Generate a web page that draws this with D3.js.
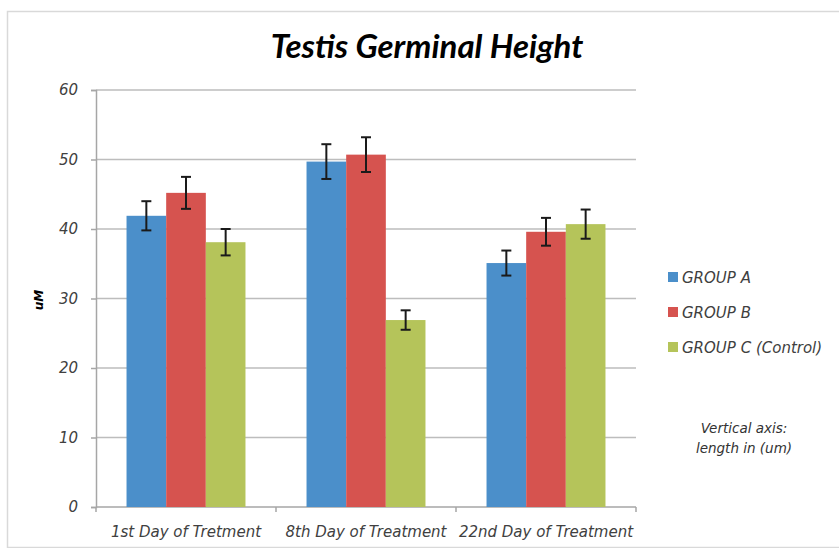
<!DOCTYPE html>
<html>
<head>
<meta charset="utf-8">
<script src="https://cdn.jsdelivr.net/npm/d3@7"></script>
<style>
  body { margin: 0; background: #fff; }
  svg { display: block; }
</style>
</head>
<body>
<div id="vis"></div>
<script>
// chart data
var categories = ["1st Day of Tretment", "8th Day of Treatment", "22nd Day of Treatment"];
var groups = ["GROUP A", "GROUP B", "GROUP C (Control)"];
var groupA = [41.9, 49.7, 35.1];
var groupB = [45.2, 50.7, 39.6];
var groupC = [38.1, 26.9, 40.7];
var errA = [2.1, 2.5, 1.8];
var errB = [2.3, 2.5, 2.0];
var errC = [1.9, 1.4, 2.1];
var yTicks = [0, 10, 20, 30, 40, 50, 60];
var colors = ["#4b8fca", "#d6534f", "#b5c45a"];

var width = 839, height = 548;
var margin = {left: 96, right: 203, top: 90, bottom: 41};

var svg = d3.select("#vis").append("svg")
    .attr("width", width)
    .attr("height", height);

// outer chart frame
svg.append("rect")
    .attr("x", 7.5).attr("y", 11.5)
    .attr("width", width + 10).attr("height", height - 12)
    .attr("fill", "none")
    .attr("stroke", "#d9d9d9")
    .attr("stroke-width", 1.5);

var x0 = d3.scaleBand()
    .domain(categories)
    .range([margin.left, width - margin.right])
    .paddingInner(0)
    .paddingOuter(0);

var x1 = d3.scaleBand()
    .domain(d3.range(groups.length))
    .range([0, x0.bandwidth()])
    .paddingOuter(0.77)
    .paddingInner(0);

var y = d3.scaleLinear()
    .domain([0, 60])
    .range([height - margin.bottom, margin.top]);

// gridlines
svg.append("g")
  .selectAll("line")
  .data(yTicks.filter(function(d) { return d > 0; }))
  .enter().append("line")
    .attr("x1", margin.left).attr("x2", width - margin.right)
    .attr("y1", function(d) { return y(d); })
    .attr("y2", function(d) { return y(d); })
    .attr("stroke", "#bdbdbd")
    .attr("stroke-width", 1.5);

// y axis
var yAxis = svg.append("g")
    .attr("transform", "translate(" + margin.left + ",0)")
    .call(d3.axisLeft(y).tickValues(yTicks).tickSize(5).tickPadding(13));
yAxis.select(".domain").attr("stroke", "#a6a6a6").attr("stroke-width", 1.5);
yAxis.selectAll(".tick line").attr("stroke", "#a6a6a6").attr("stroke-width", 1.5);
yAxis.selectAll("text")
    .attr("fill", "#404040")
    .style("font-family", "DejaVu Sans")
    .style("font-style", "italic")
    .style("font-size", "15px");

// x axis
var xAxisLine = svg.append("g")
    .attr("transform", "translate(0," + y(0) + ")");
xAxisLine.append("line")
    .attr("x1", margin.left).attr("x2", width - margin.right)
    .attr("stroke", "#a6a6a6").attr("stroke-width", 1.5);
var bounds = categories.map(function(c) { return x0(c); }).concat([width - margin.right]);
xAxisLine.selectAll(".tk")
  .data(bounds)
  .enter().append("line")
    .attr("x1", function(d) { return d; }).attr("x2", function(d) { return d; })
    .attr("y1", 0).attr("y2", 5)
    .attr("stroke", "#a6a6a6").attr("stroke-width", 1.5);
xAxisLine.selectAll(".lbl")
  .data(categories)
  .enter().append("text")
    .attr("x", function(d) { return x0(d) + x0.bandwidth() / 2; })
    .attr("y", 30)
    .attr("text-anchor", "middle")
    .attr("fill", "#404040")
    .style("font-family", "DejaVu Sans")
    .style("font-style", "italic")
    .style("font-size", "15px")
    .text(function(d) { return d; });

// bars
var series = [groupA, groupB, groupC];
var errs = [errA, errB, errC];
var rows = [];
categories.forEach(function(c, i) {
  series.forEach(function(s, g) {
    rows.push({cat: c, g: g, v: s[i], e: errs[g][i]});
  });
});

svg.append("g")
  .selectAll("rect")
  .data(rows)
  .enter().append("rect")
    .attr("x", function(d) { return x0(d.cat) + x1(d.g); })
    .attr("width", x1.bandwidth())
    .attr("y", function(d) { return y(d.v); })
    .attr("height", function(d) { return y(0) - y(d.v); })
    .attr("fill", function(d) { return colors[d.g]; });

// error bars
var eb = svg.append("g").attr("stroke", "#1a1a1a").attr("stroke-width", 2);
rows.forEach(function(d) {
  var cx = x0(d.cat) + x1(d.g) + x1.bandwidth() / 2;
  eb.append("line").attr("x1", cx).attr("x2", cx)
    .attr("y1", y(d.v + d.e)).attr("y2", y(d.v - d.e));
  eb.append("line").attr("x1", cx - 5).attr("x2", cx + 5)
    .attr("y1", y(d.v + d.e)).attr("y2", y(d.v + d.e));
  eb.append("line").attr("x1", cx - 5).attr("x2", cx + 5)
    .attr("y1", y(d.v - d.e)).attr("y2", y(d.v - d.e));
});

// title
svg.append("text")
    .attr("x", 427).attr("y", 58)
    .attr("text-anchor", "middle")
    .attr("fill", "#000")
    .style("font-family", "Lato")
    .style("font-weight", "bold")
    .style("font-style", "italic")
    .style("font-size", "33px")
    .text("Testis Germinal Height");

// y axis title
svg.append("text")
    .attr("transform", "translate(43,300) rotate(-90)")
    .attr("text-anchor", "middle")
    .attr("fill", "#000")
    .style("font-family", "DejaVu Sans")
    .style("font-weight", "bold")
    .style("font-style", "italic")
    .style("font-size", "12px")
    .text("uM");

// legend
var legend = svg.append("g").attr("transform", "translate(668,272)");
var li = legend.selectAll("g")
  .data(groups)
  .enter().append("g")
    .attr("transform", function(d, i) { return "translate(0," + (i * 35) + ")"; });
li.append("rect")
    .attr("width", 10).attr("height", 10)
    .attr("fill", function(d, i) { return colors[i]; });
li.append("text")
    .attr("x", 14).attr("y", 11)
    .attr("fill", "#404040")
    .style("font-family", "DejaVu Sans")
    .style("font-style", "italic")
    .style("font-size", "15px")
    .text(function(d) { return d; });

// note under the legend
var note = svg.append("text")
    .attr("text-anchor", "middle")
    .attr("fill", "#333")
    .style("font-family", "DejaVu Sans")
    .style("font-style", "italic")
    .style("font-size", "13.5px");
note.append("tspan").attr("x", 744).attr("y", 433).text("Vertical axis:");
note.append("tspan").attr("x", 744).attr("y", 453).text("length in (um)");
</script>
</body>
</html>
